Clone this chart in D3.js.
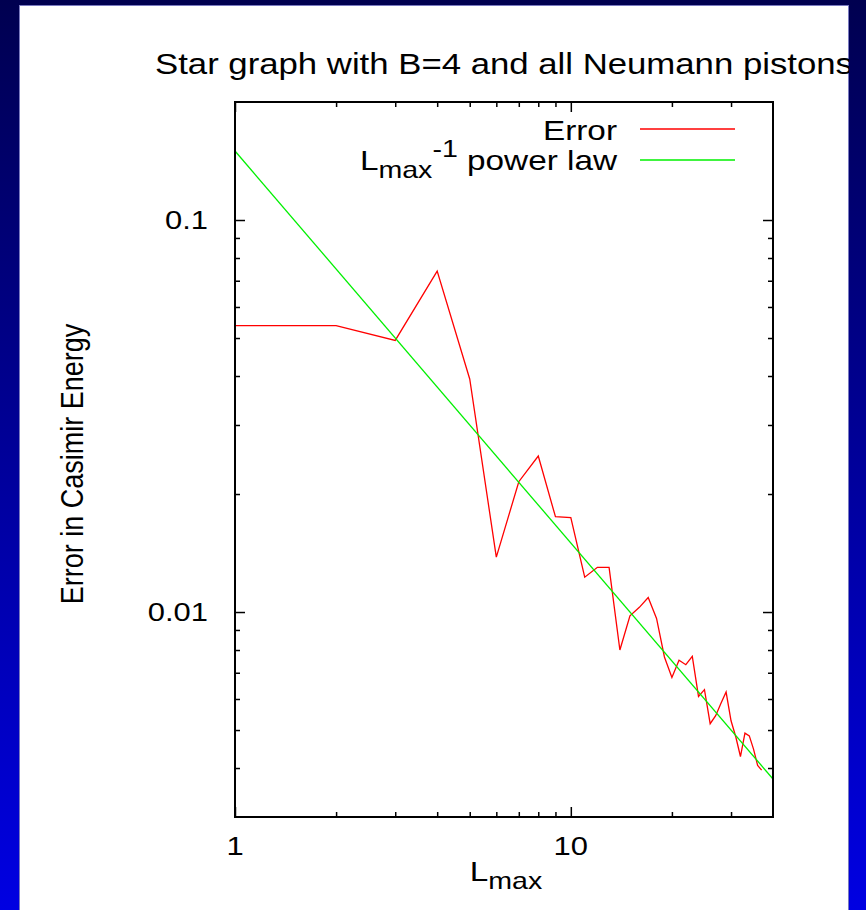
<!DOCTYPE html>
<meta charset="utf-8">
<script src="https://cdn.jsdelivr.net/npm/d3@7"></script>
<style>
  body { margin: 0; }
  text { font-family: "Liberation Sans", Arial, Helvetica, sans-serif; fill: #000; }
</style>
<body>
<script>
  // L_max values and the error in the Casimir energy
  var lmax = [1, 2, 3, 4, 5, 6, 7, 8, 9, 10, 11, 12, 13, 14, 15, 16, 17, 18, 19,
    20, 21, 22, 23, 24, 25, 26, 27, 28, 29, 30, 31, 32, 33, 34, 35, 36, 37];
  var error = [0.0538, 0.0538, 0.0493, 0.0741, 0.0393, 0.0138, 0.0215, 0.0250, 0.0175,
    0.0174, 0.01227, 0.0130, 0.0130, 0.0080, 0.00978, 0.01028, 0.01089, 0.00963,
    0.00768, 0.00681, 0.00753, 0.00734, 0.00771, 0.00609, 0.00634, 0.00519, 0.00544,
    0.00585, 0.00625, 0.00528, 0.0048, 0.00428, 0.00491, 0.00483, 0.00447, 0.00406, 0.00395];

  // L_max^-1 power law, end points
  var lawX = [1, 40];
  var lawY = [0.15, 0.00375];

  // ticks
  var xTicks = [1, 10];
  var xMinor = [2, 3, 4, 5, 6, 7, 8, 9, 20, 30];
  var yTicks = [0.01, 0.1];
  var yMinor = [0.004, 0.005, 0.006, 0.007, 0.008, 0.009,
    0.02, 0.03, 0.04, 0.05, 0.06, 0.07, 0.08, 0.09];

  var width = 866,
    height = 910;
  var SX = 1.19; // the original picture is stretched sideways

  var svg = d3.select("body").append("svg")
    .attr("width", width)
    .attr("height", height);

  // blue slide background
  var defs = svg.append("defs");
  var grad = defs.append("linearGradient")
    .attr("id", "bg")
    .attr("x1", 0).attr("y1", 0).attr("x2", 0).attr("y2", 1);
  grad.append("stop").attr("offset", "0%").attr("stop-color", "#000050");
  grad.append("stop").attr("offset", "100%").attr("stop-color", "#0000e2");
  svg.append("rect")
    .attr("width", width)
    .attr("height", height)
    .attr("fill", "url(#bg)");

  defs.append("clipPath").attr("id", "page")
    .append("rect")
    .attr("x", 19).attr("y", 5)
    .attr("width", 830).attr("height", 920);

  svg.append("rect")
    .attr("x", 19.5).attr("y", 5.5)
    .attr("width", 829).attr("height", 920)
    .attr("fill", "#fff")
    .attr("stroke", "#7a7ac0");

  var page = svg.append("g").attr("clip-path", "url(#page)");

  var x = d3.scaleLog().domain([1, 40]).range([235, 773]);
  var y = d3.scaleLog().domain([0.003, 0.2]).range([817, 102]);

  // stretched text helper
  function label(parent, px, py, size, anchor, str) {
    var g = parent.append("g")
      .attr("transform", "translate(" + px + "," + py + ") scale(" + SX + ",1)");
    return g.append("text")
      .attr("text-anchor", anchor)
      .style("font-size", size + "px")
      .text(str);
  }

  // title
  label(page, 155, 74, 29.2, "start", "Star graph with B=4 and all Neumann pistons");

  // axes (ticks point inwards, like gnuplot)
  function tickStyle(g) {
    g.select(".domain").remove();
    g.selectAll(".tick line").attr("stroke", "#000").attr("stroke-width", 1.5);
  }

  page.append("g")
    .attr("transform", "translate(0,817)")
    .call(d3.axisBottom(x).tickValues(xTicks).tickSize(-10).tickFormat(""))
    .call(tickStyle);
  page.append("g")
    .attr("transform", "translate(0,817)")
    .call(d3.axisBottom(x).tickValues(xMinor).tickSize(-5).tickFormat(""))
    .call(tickStyle);
  page.append("g")
    .attr("transform", "translate(0,102)")
    .call(d3.axisTop(x).tickValues(xTicks).tickSize(-10).tickFormat(""))
    .call(tickStyle);
  page.append("g")
    .attr("transform", "translate(0,102)")
    .call(d3.axisTop(x).tickValues(xMinor).tickSize(-5).tickFormat(""))
    .call(tickStyle);
  page.append("g")
    .attr("transform", "translate(235,0)")
    .call(d3.axisLeft(y).tickValues(yTicks).tickSize(-10).tickFormat(""))
    .call(tickStyle);
  page.append("g")
    .attr("transform", "translate(235,0)")
    .call(d3.axisLeft(y).tickValues(yMinor).tickSize(-5).tickFormat(""))
    .call(tickStyle);
  page.append("g")
    .attr("transform", "translate(773,0)")
    .call(d3.axisRight(y).tickValues(yTicks).tickSize(-10).tickFormat(""))
    .call(tickStyle);
  page.append("g")
    .attr("transform", "translate(773,0)")
    .call(d3.axisRight(y).tickValues(yMinor).tickSize(-5).tickFormat(""))
    .call(tickStyle);

  // tick labels
  xTicks.forEach(function (d) {
    label(page, x(d), 855, 26, "middle", d3.format("d")(d));
  });
  yTicks.forEach(function (d) {
    label(page, 208, y(d) + 9, 26, "end", String(d));
  });

  // axis labels
  var xl = label(page, 506, 881, 28, "middle", "L");
  xl.append("tspan").attr("dy", 8).style("font-size", "24px").text("max");

  page.append("g")
    .attr("transform", "translate(83,464) rotate(-90) scale(1," + SX + ")")
    .append("text")
    .attr("text-anchor", "middle")
    .style("font-size", "27px")
    .text("Error in Casimir Energy");

  // plot lines
  var line = d3.line()
    .x(function (d) { return x(d[0]); })
    .y(function (d) { return y(d[1]); });

  page.append("path")
    .datum(lmax.map(function (d, i) { return [d, error[i]]; }))
    .attr("fill", "none")
    .attr("stroke", "#ff0000")
    .attr("stroke-width", 1.3)
    .attr("d", line);

  page.append("path")
    .datum(lawX.map(function (d, i) { return [d, lawY[i]]; }))
    .attr("fill", "none")
    .attr("stroke", "#00f000")
    .attr("stroke-width", 1.3)
    .attr("d", line);

  // frame
  page.append("rect")
    .attr("x", 235).attr("y", 102)
    .attr("width", 538).attr("height", 715)
    .attr("fill", "none")
    .attr("stroke", "#000")
    .attr("stroke-width", 2);

  // key
  label(page, 617, 140, 28, "end", "Error");
  var k2 = label(page, 617, 170, 28, "end", "L");
  k2.append("tspan").attr("dy", 8).style("font-size", "24px").text("max");
  k2.append("tspan").attr("dy", -21).style("font-size", "24px").text("-1");
  k2.append("tspan").attr("dy", 13).text(" power law");

  page.append("line")
    .attr("x1", 640).attr("x2", 735).attr("y1", 129).attr("y2", 129)
    .attr("stroke", "#ff0000").attr("stroke-width", 1.3);
  page.append("line")
    .attr("x1", 640).attr("x2", 735).attr("y1", 160).attr("y2", 160)
    .attr("stroke", "#00f000").attr("stroke-width", 1.3);
</script>
</body>
